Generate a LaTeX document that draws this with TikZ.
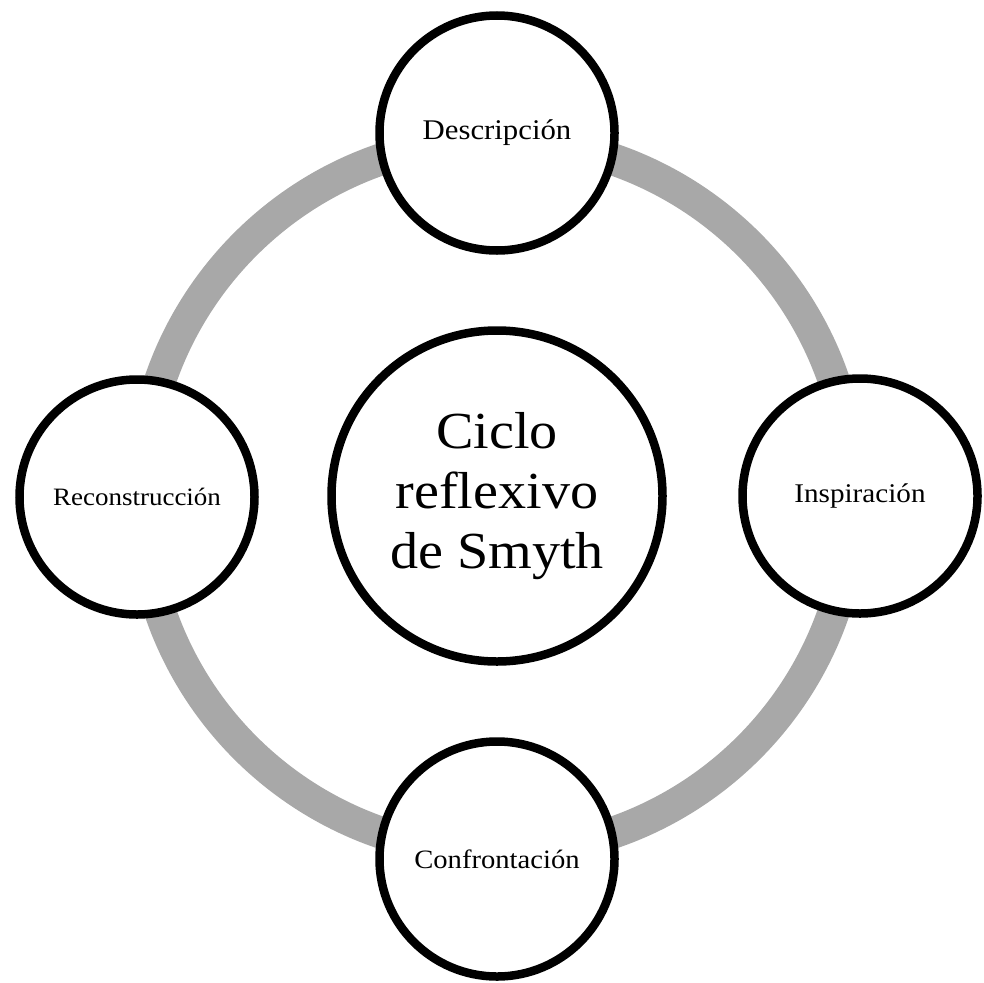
\documentclass[tikz,border=0pt]{standalone}
\usepackage{fontspec}
\setmainfont[FakeStretch=1.08]{Liberation Serif}
\usetikzlibrary{shadows}
\definecolor{ringgray}{RGB}{168,168,168}
\tikzset{
  stage/.style={circle, draw=black, line width=8.5pt, fill=white, minimum size=235pt,
    inner sep=0pt,
    drop shadow={shadow xshift=1.5pt, shadow yshift=-2pt, opacity=0.22, fill=black}},
  hub/.style={circle, draw=black, line width=8.5pt, fill=white, minimum size=331pt,
    inner sep=0pt, align=center, font=\fontsize{52}{60}\selectfont,
    drop shadow={shadow xshift=1.5pt, shadow yshift=-2pt, opacity=0.22, fill=black}},
  ringline/.style={draw=ringgray, line width=32pt}
}
\begin{document}
\begin{tikzpicture}[x=1pt, y=-1pt]
\useasboundingbox (0,0) rectangle (984,982);
\coordinate (ringc) at (497,496);
\draw[ringline] (ringc) circle[radius=356];
\node[hub] (center) at (497,496) {Ciclo\\reflexivo\\de Smyth};
\node[stage, font=\fontsize{28.5}{34}\selectfont] (desc) at (497,133) {Descripción};
\node[stage, font=\fontsize{27}{32}\selectfont] (insp) at (860,496) {Inspiración};
\node[stage, font=\fontsize{26.5}{32}\selectfont] (conf) at (497,859) {Confrontación};
\node[stage, font=\fontsize{25}{30}\selectfont] (reco) at (137,497) {Reconstrucción};
\end{tikzpicture}
\end{document}
